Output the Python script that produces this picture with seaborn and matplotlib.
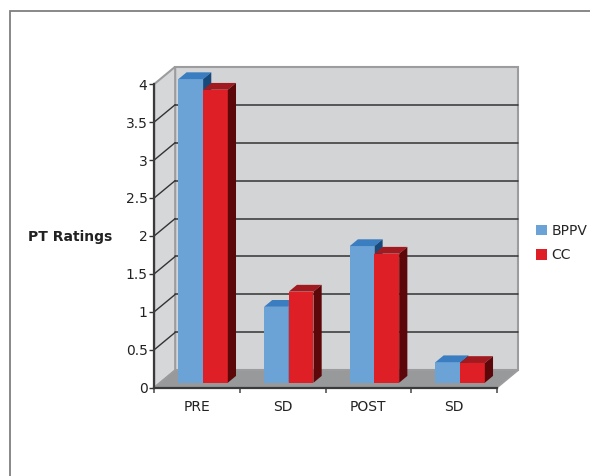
import matplotlib
matplotlib.use("Agg")
import matplotlib.pyplot as plt
from matplotlib.patches import Polygon, Rectangle
import seaborn as sns
import pandas as pd

# ---- data ----
categories = ["PRE", "SD", "POST", "SD"]
cat_ids = ["PRE", "SD_1", "POST", "SD_2"]
groups = ["BPPV", "CC"]
bppv = [4.0, 1.0, 1.8, 0.27]
cc = [3.86, 1.2, 1.7, 0.26]
y_ticks = [0, 0.5, 1, 1.5, 2, 2.5, 3, 3.5, 4]
y_tick_labels = ["0", "0.5", "1", "1.5", "2", "2.5", "3", "3.5", "4"]

df = pd.DataFrame({
    "cond": cat_ids * 2,
    "group": ["BPPV"] * 4 + ["CC"] * 4,
    "value": bppv + cc,
})

sns.set_theme(style="white")
plt.rcParams["font.family"] = ["DejaVu Sans"]

W, H = 590, 476
fig = plt.figure(figsize=(W / 100, H / 100), dpi=100)
fig.patch.set_facecolor("white")

# bar plane mapping: x_px = 203.1 + 85.675*x ; y_px = 382.7 - 75.9*y
XL = (-0.95, 3.95)
YL = (-0.2, 4.35)
left_px = 203.1 + XL[0] * 85.675
right_px = 203.1 + XL[1] * 85.675
bot_px = 382.7 - YL[0] * 75.9
top_px = 382.7 - YL[1] * 75.9
ax = fig.add_axes([left_px / W, (H - bot_px) / H, (right_px - left_px) / W, (bot_px - top_px) / H])
ax.set_facecolor("none")

blue_front, blue_top, blue_side = "#6ba3d7", "#3b7dc1", "#174a7a"
red_front, red_top, red_side = "#df1f26", "#a11a1f", "#5c080b"

sns.barplot(data=df, x="cond", y="value", hue="group", order=cat_ids,
            hue_order=groups, palette=[blue_front, red_front], width=0.577,
            saturation=1, linewidth=0, ax=ax)

ax.set_xlim(*XL)
ax.set_ylim(*YL)

# depth vector (data units) and planes
VX, VY = 0.2451, 0.2292
f = 0.29      # bar front depth fraction
bd = 0.39     # bar depth fraction
xf0, xf1 = -0.5 - f * VX, 3.5 - f * VX
yf0 = -f * VY
xb0, xb1 = xf0 + VX, xf1 + VX
yb0 = yf0 + VY

wall_col = "#d3d4d6"
floor_col = "#98999b"
edge_col = "#9c9c9e"
grid_col = "#333333"

# back wall
ax.add_patch(Polygon([(xb0, yb0), (xb1, yb0), (xb1, yb0 + 4), (xb0, yb0 + 4)],
                     closed=True, facecolor=wall_col, edgecolor=edge_col, lw=1.5, zorder=0.5))
# left wall
ax.add_patch(Polygon([(xf0, yf0), (xb0, yb0), (xb0, yb0 + 4), (xf0, yf0 + 4)],
                     closed=True, facecolor="#d6d7d9", edgecolor=edge_col, lw=1.5, zorder=0.6))
# floor
ax.add_patch(Polygon([(xf0, yf0), (xf1, yf0), (xb1, yb0), (xb0, yb0)],
                     closed=True, facecolor=floor_col, edgecolor=edge_col, lw=1.2, zorder=0.7))
# gridlines on back wall and left wall
for v in y_ticks[1:-1]:
    ax.plot([xb0, xb1], [yb0 + v, yb0 + v], color=grid_col, lw=1.1, zorder=0.8)
    ax.plot([xf0, xb0], [yf0 + v, yb0 + v], color=grid_col, lw=1.0, zorder=0.8)

# 3D faces for bars
n = len(cat_ids)
bars = list(ax.patches)
bar_patches = [p for p in bars if isinstance(p, Rectangle) and p.get_width() > 0 and p.get_width() < 1]
bx, by = bd * VX, bd * VY
for i, p in enumerate(bar_patches):
    x0 = p.get_x()
    x1 = x0 + p.get_width()
    h = p.get_height()
    is_blue = i < n
    z = 3 if is_blue else 4
    tc, sc = (blue_top, blue_side) if is_blue else (red_top, red_side)
    p.set_zorder(z)
    ax.add_patch(Polygon([(x0, h), (x1, h), (x1 + bx, h + by), (x0 + bx, h + by)],
                         closed=True, facecolor=tc, edgecolor="none", zorder=z + 0.1))
    ax.add_patch(Polygon([(x1, 0), (x1, h), (x1 + bx, h + by), (x1 + bx, by)],
                         closed=True, facecolor=sc, edgecolor="none", zorder=z + 0.1))

# axes / ticks on front plane
for s in ["top", "right"]:
    ax.spines[s].set_visible(False)
ax.spines["left"].set_position(("data", xf0))
ax.spines["bottom"].set_position(("data", yf0))
ax.spines["left"].set_bounds(yf0, yf0 + 4)
ax.spines["bottom"].set_bounds(xf0, xf1)
for s in ["left", "bottom"]:
    ax.spines[s].set_color("#3a3a3a")
    ax.spines[s].set_linewidth(1.6)
    ax.spines[s].set_zorder(2)

ax.set_yticks([v + yf0 for v in y_ticks])
ax.set_yticklabels(y_tick_labels)
ax.set_xticks([i - f * VX for i in range(n)])
ax.set_xticklabels(categories)
ax.set_xticks([xf0 + k for k in range(n + 1)], minor=True)
ax.tick_params(axis="y", which="major", left=True, length=3.3, width=1.0, color="#333333",
               pad=1.5, labelsize=10, labelcolor="#222222", direction="out")
ax.tick_params(axis="x", which="major", bottom=True, length=0, pad=9, labelsize=10,
               labelcolor="#222222")
ax.tick_params(axis="x", which="minor", bottom=True, length=3.5, width=1.2, color="#555555",
               direction="out")
ax.set_xlabel("")
ax.set_ylabel("PT Ratings", rotation=0, fontsize=10, fontweight="bold", color="#222222",
              ha="center", va="center")
ax.yaxis.set_label_coords((70 - left_px) / (right_px - left_px), (bot_px - 236.7) / (bot_px - top_px))

# legend
handles, labels = ax.get_legend_handles_labels()
if ax.get_legend() is not None:
    ax.get_legend().remove()
fig.legend(handles, labels, loc="upper left", bbox_to_anchor=(536 / W, 1 - 224 / H),
           bbox_transform=fig.transFigure, frameon=False, fontsize=10,
           handlelength=0.8, handleheight=0.8, handletextpad=0.3, labelspacing=0.75,
           borderpad=0, borderaxespad=0)

# outer chart border
fig.patches.append(Rectangle((9.5 / W, -0.05), 1.2, 1 - 10.5 / H + 0.05, transform=fig.transFigure,
                             fill=False, edgecolor="#7f7f7f", lw=1.3))

fig.savefig("out.png", dpi=100, facecolor="white")
